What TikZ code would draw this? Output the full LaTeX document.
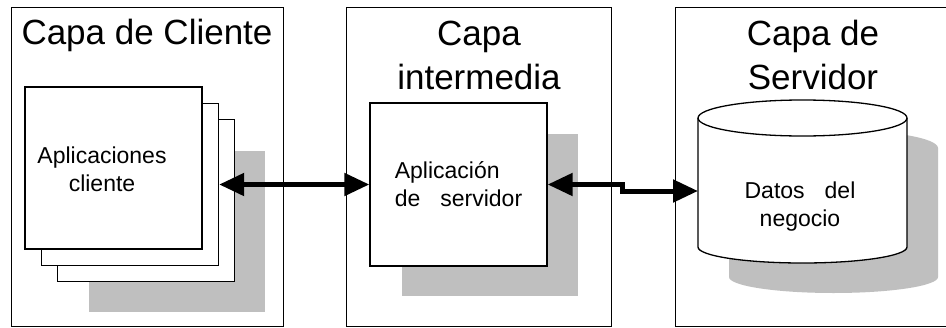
\documentclass[tikz,border=0pt]{standalone}
\usepackage{fontspec}
\setmainfont{Liberation Sans}
\usetikzlibrary{arrows.meta}

\tikzset{
  layerbox/.style={draw, line width=1pt},
  shadowbox/.style={fill=black!25},
  card/.style={draw, fill=white, line width=1.3pt, minimum width=177pt, minimum height=162pt, inner sep=0pt},
  title/.style={font=\fontsize{35}{44}\selectfont, align=center},
  cardtext/.style={font=\fontsize{23}{28}\selectfont, align=left},
  link/.style={line width=5pt, {Triangle[length=25pt,width=22pt]}-{Triangle[length=25pt,width=22pt]}}
}

\begin{document}
\begin{tikzpicture}[x=1pt,y=-1pt]
    \clip (0,0) rectangle (946,327);
    \fill[white] (0,0) rectangle (946,327);

    % capas
    \draw[layerbox] (11,7) rectangle (283,326);
    \draw[layerbox] (346,7) rectangle (611,326);
    \draw[layerbox] (675,7) rectangle (960,326);
    \node[title] (tcliente) at (147,35) {Capa de Cliente};
    \node[title] (tinter) at (479,55) {Capa\\intermedia};
    \node[title] (tservidor) at (813,55) {Capa de\\Servidor};

    % cliente
    \fill[shadowbox] (89,151) rectangle (265,312);
    \node[card] (card3) at (146,200.5) {};
    \node[card] (card2) at (130,184.5) {};
    \node[card] (card1) at (113.5,168) {};
    \node[cardtext, align=center] (apptext) at (102,169) {Aplicaciones\\cliente};

    % intermedia
    \fill[shadowbox] (402,134) rectangle (578,296);
    \node[card, minimum height=163pt, cardtext] (srvapp) at (458.5,184.5) {Aplicaci\'on\\de\hspace{20pt}servidor};

    % servidor
    \fill[shadowbox, shift={(31,30)}] (698,118) arc[start angle=180, end angle=360, x radius=104.5, y radius=18]
        -- (907,247) arc[start angle=0, end angle=180, x radius=104.5, y radius=16] -- cycle;
    \draw[fill=white, line width=1.3pt] (698,118) arc[start angle=180, end angle=360, x radius=104.5, y radius=18]
        -- (907,247) arc[start angle=0, end angle=180, x radius=104.5, y radius=16] -- cycle;
    \draw[line width=1.3pt] (698,118) arc[start angle=180, end angle=0, x radius=104.5, y radius=18];
    \node[cardtext, align=center] (datos) at (800,207) {Datos\hspace{20pt}del\\negocio};
    \coordinate (dbin) at (698,191);

    % conexiones
    \draw[link] (card2.east) -- (srvapp.west);
    \draw[link] (srvapp.east) -- ++(75,0) |- (dbin);
\end{tikzpicture}
\end{document}
